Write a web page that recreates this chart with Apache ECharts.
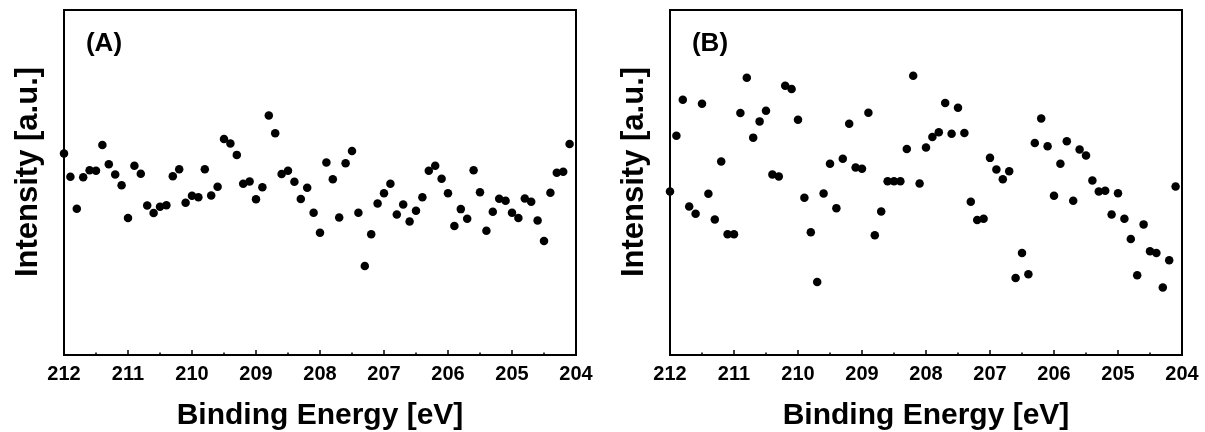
<!DOCTYPE html>
<html>
<head>
<meta charset="utf-8">
<script src="https://cdn.jsdelivr.net/npm/echarts@6/dist/echarts.min.js"></script>
<style>
    html, body { margin: 0; padding: 0; background: #fff; }
    #chart { width: 1205px; height: 432px; }
</style>
</head>
<body>
<div id="chart"></div>
<script>
(function () {
    'use strict';

    // binding energy of every point (eV)
    var energies = [
        212.0, 211.9, 211.8, 211.7, 211.6, 211.5, 211.4, 211.3, 211.2, 211.1,
        211.0, 210.9, 210.8, 210.7, 210.6, 210.5, 210.4, 210.3, 210.2, 210.1,
        210.0, 209.9, 209.8, 209.7, 209.6, 209.5, 209.4, 209.3, 209.2, 209.1,
        209.0, 208.9, 208.8, 208.7, 208.6, 208.5, 208.4, 208.3, 208.2, 208.1,
        208.0, 207.9, 207.8, 207.7, 207.6, 207.5, 207.4, 207.3, 207.2, 207.1,
        207.0, 206.9, 206.8, 206.7, 206.6, 206.5, 206.4, 206.3, 206.2, 206.1,
        206.0, 205.9, 205.8, 205.7, 205.6, 205.5, 205.4, 205.3, 205.2, 205.1,
        205.0, 204.9, 204.8, 204.7, 204.6, 204.5, 204.4, 204.3, 204.2, 204.1
    ];

    // intensity, panel (A)
    var intensityA = [
        202, 178.7, 146.7, 178.3, 185.3, 184.7, 210.7, 191.3, 181, 170.3,
        137.3, 189.7, 181.7, 150, 142.3, 148.7, 150.3, 179.3, 186.3, 152.7,
        159.7, 158.3, 186.3, 160, 168.7, 216.7, 212, 200.7, 171.7, 174,
        156.3, 168.3, 240.3, 222.5, 181.5, 184.7, 173.7, 156.5, 167.7, 142.7,
        122.7, 193, 176.3, 138, 192.3, 204.7, 142.7, 89.3, 121, 152,
        162.3, 171.7, 141, 151, 134, 144.7, 158.3, 184.7, 189.7, 176.7,
        162.3, 129.3, 146.3, 136.7, 185.3, 163.3, 124.7, 143.7, 156.7, 154.7,
        142.7, 137.3, 157, 153.7, 135, 114.3, 162.7, 182.7, 183.7, 211.7
    ];

    // intensity, panel (B)
    var intensityB = [
        164, 220, 256, 149, 141.7, 252, 161.7, 136, 194, 121,
        121, 242.7, 278, 218, 234.3, 245, 181, 179, 270, 266.7,
        236, 157.7, 123, 73.3, 162, 191.7, 147.3, 196.7, 232, 188,
        186.7, 243, 120, 144, 174.3, 174.3, 174.3, 206.7, 280, 172,
        208, 218.7, 223.3, 252.7, 222, 248, 222.7, 153.7, 135.3, 136.7,
        197.7, 186, 176.3, 184.3, 77.3, 102.3, 81, 212.7, 237.3, 209.3,
        159.7, 191.7, 214.3, 154.7, 206, 200, 175, 164, 164.7, 141,
        162.3, 136.7, 116.3, 80, 131, 104, 102.3, 67.7, 95, 169
    ];

    var panelLabels = ['(A)', '(B)'];
    var xName = 'Binding Energy [eV]';
    var yName = 'Intensity [a.u.]';

    var gridLefts = [64, 670];
    var FONT = 'Liberation Sans, Arial, sans-serif';

    function pairs(ys) {
        var out = [];
        for (var i = 0; i < energies.length; i++) {
            out.push([energies[i], ys[i]]);
        }
        return out;
    }

    function xAxis(idx) {
        return {
            type: 'value',
            gridIndex: idx,
            min: 204,
            max: 212,
            interval: 1,
            inverse: true,
            name: xName,
            nameLocation: 'middle',
            nameGap: 46,
            nameTextStyle: { color: '#000', fontSize: 30, fontWeight: 'bold', fontFamily: FONT },
            axisLine: { show: true, lineStyle: { color: '#000', width: 2 } },
            axisTick: { show: true, inside: true, length: 5, lineStyle: { color: '#000', width: 1.5 } },
            minorTick: { show: true, splitNumber: 2, length: 2.5, lineStyle: { color: '#000', width: 1.5 } },
            splitLine: { show: false },
            axisLabel: {
                color: '#000', fontSize: 20, fontWeight: 'bold', fontFamily: FONT,
                margin: 9, showMinLabel: true, showMaxLabel: true
            }
        };
    }

    function yAxis(idx) {
        return {
            type: 'value',
            gridIndex: idx,
            min: 0,
            max: 346,
            axisLine: { show: true, lineStyle: { color: '#000', width: 2 } },
            axisTick: { show: false },
            axisLabel: { show: false },
            splitLine: { show: false }
        };
    }

    function grid(left) {
        return {
            left: left, top: 10, width: 512, height: 345,
            containLabel: false,
            outerBoundsMode: 'none',
            show: true, borderColor: '#000', borderWidth: 2
        };
    }

    var myChart = echarts.init(document.getElementById('chart'), null, { renderer: 'canvas' });

    var graphics = [];
    for (var g = 0; g < 2; g++) {
        graphics.push({
            type: 'text',
            x: gridLefts[g] + 40,
            y: 44,
            style: {
                text: panelLabels[g],
                fill: '#000',
                font: 'bold 26px ' + FONT,
                textAlign: 'center',
                textVerticalAlign: 'middle'
            }
        });
        graphics.push({
            type: 'text',
            x: gridLefts[g] - 36,
            y: 172,
            rotation: Math.PI / 2,
            style: {
                text: yName,
                fill: '#000',
                font: 'bold 31px ' + FONT,
                textAlign: 'center',
                textVerticalAlign: 'middle'
            }
        });
    }

    myChart.setOption({
        backgroundColor: '#fff',
        animation: false,
        grid: [grid(gridLefts[0]), grid(gridLefts[1])],
        xAxis: [xAxis(0), xAxis(1)],
        yAxis: [yAxis(0), yAxis(1)],
        graphic: graphics,
        series: [
            {
                name: 'A',
                type: 'scatter',
                xAxisIndex: 0,
                yAxisIndex: 0,
                symbolSize: 8.5,
                itemStyle: { color: '#000', opacity: 1 },
                data: pairs(intensityA)
            },
            {
                name: 'B',
                type: 'scatter',
                xAxisIndex: 1,
                yAxisIndex: 1,
                symbolSize: 8.5,
                itemStyle: { color: '#000', opacity: 1 },
                data: pairs(intensityB)
            }
        ]
    });
})();
</script>
</body>
</html>
